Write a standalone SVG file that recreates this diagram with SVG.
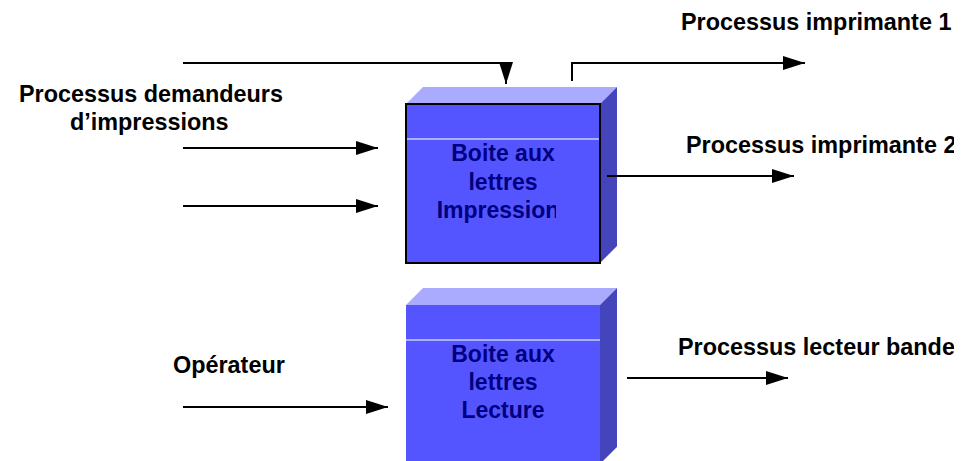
<svg xmlns="http://www.w3.org/2000/svg" width="975" height="461" viewBox="0 0 975 461">
  <style>
    .label { font-family: "Liberation Sans", Arial, sans-serif; font-weight: bold; font-size: 23.4px; fill: #000000; }
    .boxtext { font-family: "Liberation Sans", Arial, sans-serif; font-weight: bold; font-size: 23px; fill: #000080; text-anchor: middle; }
    .front { fill: #5555ff; }
    .top { fill: #aaaaff; }
    .side { fill: #4444bb; }
    .sep { stroke: #aab0ff; stroke-width: 2; }
    .conn { fill: none; stroke: #000000; stroke-width: 2; marker-end: url(#arrow); }
  </style>
  <defs>
    <marker id="arrow" markerUnits="userSpaceOnUse" markerWidth="22" markerHeight="14" refX="22" refY="7" orient="auto">
      <path d="M0,0 L22,7 L0,14 z" fill="#000000"/>
    </marker>
    <!-- text frames: labels end at the slide edge, box caption at its frame -->
    <clipPath id="page-clip"><rect x="0" y="0" width="954" height="461"/></clipPath>
    <clipPath id="caption-clip"><rect x="406" y="104" width="150" height="159"/></clipPath>
  </defs>
  <rect width="975" height="461" fill="#ffffff"/>

  <!-- Mailbox: printing -->
  <g id="box-impression">
    <polygon class="top" points="406,104 423,87 617,87 600,104"/>
    <polygon class="side" points="600,104 617,87 617,246 600,263"/>
    <rect class="front" x="406" y="104" width="194" height="159" stroke="#000000" stroke-width="2"/>
    <line class="sep" x1="407" y1="139" x2="599" y2="139"/>
    <text class="boxtext" x="503" y="161">Boite aux</text>
    <text class="boxtext" x="503" y="190">lettres</text>
    <text class="boxtext" x="498" y="218" clip-path="url(#caption-clip)">Impression</text>
  </g>

  <!-- Mailbox: reading -->
  <g id="box-lecture">
    <polygon class="top" points="406,305 423,288 617,288 600,305"/>
    <polygon class="side" points="600,305 617,288 617,447 600,464"/>
    <rect class="front" x="406" y="305" width="194" height="159"/>
    <line class="sep" x1="406" y1="340" x2="600" y2="340"/>
    <text class="boxtext" x="503" y="362">Boite aux</text>
    <text class="boxtext" x="503" y="390">lettres</text>
    <text class="boxtext" x="503" y="418">Lecture</text>
  </g>

  <!-- Labels -->
  <g clip-path="url(#page-clip)">
    <g id="requesters">
      <text class="label" x="19" y="102">Processus demandeurs</text>
      <text class="label" x="70" y="130">d’impressions</text>
    </g>
    <g id="printer1"><text class="label" x="681" y="30">Processus imprimante 1</text></g>
    <g id="printer2"><text class="label" x="686" y="153">Processus imprimante 2</text></g>
    <g id="operator"><text class="label" x="173" y="373">Opérateur</text></g>
    <g id="tape-reader"><text class="label" x="678" y="355">Processus lecteur bande</text></g>
  </g>

  <!-- Connectors -->
  <g id="connectors">
    <path class="conn" d="M183,63 H506 V84"/>
    <path class="conn" d="M183,148 H378"/>
    <path class="conn" d="M183,206 H378"/>
    <path class="conn" d="M572,81 V63 H805"/>
    <path class="conn" d="M607,176 H794"/>
    <path class="conn" d="M183,407 H388"/>
    <path class="conn" d="M627,378 H788"/>
  </g>
</svg>
